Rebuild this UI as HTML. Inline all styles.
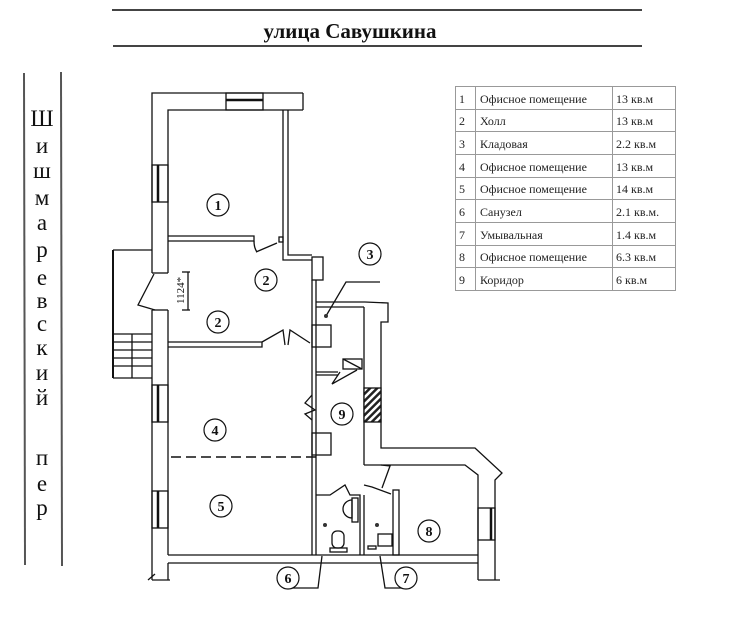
<!DOCTYPE html>
<html><head><meta charset="utf-8"><style>
body{margin:0;background:#fff;width:737px;height:641px;overflow:hidden}
svg{display:block}
</style></head><body>
<svg width="737" height="641" viewBox="0 0 737 641" xmlns="http://www.w3.org/2000/svg" font-family="Liberation Serif, serif">
<rect width="737" height="641" fill="#fff"/>
<!-- title -->
<line x1="112" y1="10" x2="642" y2="10" stroke="#444" stroke-width="2"/>
<line x1="113" y1="46" x2="642" y2="46" stroke="#444" stroke-width="2"/>
<text x="350" y="38" font-size="21" font-weight="bold" text-anchor="middle" fill="#111">улица Савушкина</text>
<!-- left street -->
<line x1="24" y1="73" x2="25" y2="565" stroke="#555" stroke-width="2"/>
<line x1="61" y1="72" x2="62" y2="566" stroke="#555" stroke-width="2"/>
<g font-size="23" text-anchor="middle" fill="#111">
<text x="42" y="126">Ш</text><text x="42" y="153">и</text><text x="42" y="178">ш</text><text x="42" y="205">м</text><text x="42" y="230">а</text><text x="42" y="257">р</text><text x="42" y="285">е</text><text x="42" y="308">в</text><text x="42" y="331">с</text><text x="42" y="355">к</text><text x="42" y="380">и</text><text x="42" y="405">й</text><text x="42" y="465">п</text><text x="42" y="491">е</text><text x="42" y="515">р</text>
</g>
<!-- table -->
<g stroke="#999" stroke-width="1" fill="none">
<rect x="455.5" y="86.5" width="220" height="204"/>
<line x1="475.5" y1="86" x2="475.5" y2="291"/>
<line x1="612.5" y1="86" x2="612.5" y2="291"/>
<line x1="455" y1="109.5" x2="676" y2="109.5"/><line x1="455" y1="131.5" x2="676" y2="131.5"/>
<line x1="455" y1="154.5" x2="676" y2="154.5"/><line x1="455" y1="177.5" x2="676" y2="177.5"/>
<line x1="455" y1="199.5" x2="676" y2="199.5"/><line x1="455" y1="222.5" x2="676" y2="222.5"/>
<line x1="455" y1="245.5" x2="676" y2="245.5"/><line x1="455" y1="267.5" x2="676" y2="267.5"/>
</g>
<g font-size="12" fill="#222">
<text x="459" y="103">1</text><text x="480" y="103">Офисное помещение</text><text x="616" y="103">13 кв.м</text>
<text x="459" y="125">2</text><text x="480" y="125">Холл</text><text x="616" y="125">13 кв.м</text>
<text x="459" y="148">3</text><text x="480" y="148">Кладовая</text><text x="616" y="148">2.2 кв.м</text>
<text x="459" y="171">4</text><text x="480" y="171">Офисное помещение</text><text x="616" y="171">13 кв.м</text>
<text x="459" y="193">5</text><text x="480" y="193">Офисное помещение</text><text x="616" y="193">14 кв.м</text>
<text x="459" y="216">6</text><text x="480" y="216">Санузел</text><text x="616" y="216">2.1 кв.м.</text>
<text x="459" y="239">7</text><text x="480" y="239">Умывальная</text><text x="616" y="239">1.4 кв.м</text>
<text x="459" y="261">8</text><text x="480" y="261">Офисное помещение</text><text x="616" y="261">6.3 кв.м</text>
<text x="459" y="284">9</text><text x="480" y="284">Коридор</text><text x="616" y="284">6 кв.м</text>
</g>
<!-- plan -->
<g stroke="#111" stroke-width="1.3" fill="none">
<polyline points="303,93 152,93 152,273"/>
<polyline points="303,110 168,110 168,273"/>
<line x1="152" y1="273" x2="168" y2="273"/>
<polyline points="152,310 152,580"/>
<polyline points="168,310 168,555"/>
<line x1="152" y1="310" x2="168" y2="310"/>
<line x1="303" y1="93" x2="303" y2="110"/>
<rect x="226" y="93" width="37" height="17"/><line x1="226" y1="100" x2="263" y2="100" stroke-width="2.5"/>
<rect x="152" y="165" width="16" height="37"/><line x1="158" y1="165" x2="158" y2="202" stroke-width="2.5"/>
<rect x="152" y="385" width="16" height="37"/><line x1="158" y1="385" x2="158" y2="422" stroke-width="2.5"/>
<rect x="152" y="491" width="16" height="37"/><line x1="158" y1="491" x2="158" y2="528" stroke-width="2.5"/>
<polyline points="154,274 138,305 155,310"/>
<polyline points="113,250 152,250"/><line x1="113" y1="250" x2="113" y2="378" stroke-width="2"/>
<line x1="113" y1="378" x2="152" y2="378"/>
<line x1="113" y1="334" x2="152" y2="334"/><line x1="113" y1="342" x2="152" y2="342"/><line x1="113" y1="350" x2="152" y2="350"/><line x1="113" y1="358" x2="152" y2="358"/><line x1="113" y1="366" x2="152" y2="366"/>
<line x1="132" y1="334" x2="132" y2="378"/>
<line x1="188" y1="272" x2="188" y2="310"/><line x1="182" y1="272" x2="190" y2="272"/><line x1="182" y1="310" x2="190" y2="310"/>
<polyline points="283,110 283,260 312,260"/>
<polyline points="288,110 288,255 312,255"/>
<polyline points="168,236 254,236 254,241 168,241"/>
<polyline points="256,252 277,243"/><rect x="279" y="237" width="4" height="5"/>
<path d="M254,241 Q254,248 257,252"/>
<polyline points="168,342 262,342 262,347 168,347"/>
<polyline points="262,342 283,330 285,345"/>
<polyline points="310,343 290,330 288,345"/>
<rect x="312" y="257" width="11" height="23"/>
<line x1="312" y1="280" x2="312" y2="555"/><line x1="316" y1="280" x2="316" y2="555"/>
<line x1="316" y1="302" x2="365" y2="302"/><line x1="316" y1="307" x2="364" y2="307"/>
<rect x="312" y="325" width="19" height="22"/>
<polyline points="365,302 388,303 388,322 381,322 381,448 465,448"/>
<line x1="364" y1="307" x2="364" y2="465"/>
<rect x="343" y="359" width="19" height="10"/><line x1="343" y1="359" x2="362" y2="369"/>
<polyline points="316,372 338,372"/><polyline points="316,375 338,375"/>
<polyline points="340,372 332,384 357,370"/>
<polyline points="312,395 305,403 315,410 305,414 312,420"/>
<rect x="312" y="433" width="19" height="22"/>
<rect x="364" y="388" width="17" height="34" fill="url(#h)"/>
<polyline points="364,465 465,465 478,475 478,580"/>
<polyline points="465,448 475,448 502,473 495,480 495,580"/>
<rect x="478" y="508" width="17" height="32"/><line x1="491" y1="508" x2="491" y2="540" stroke-width="2.5"/>
<line x1="168" y1="555" x2="478" y2="555"/>
<line x1="168" y1="563" x2="478" y2="563"/>
<line x1="168" y1="563" x2="168" y2="580"/>
<polyline points="316,495 330,495 345,485 350,495 355,495"/>
<polyline points="355,495 360,495 360,555"/><line x1="364" y1="495" x2="364" y2="555"/>
<polyline points="364,485 372,487 391,494"/>
<polyline points="381,465 390,466 382,488"/>
<rect x="393" y="490" width="6" height="65"/>
<path d="M352,500 a9,9 0 0 0 0,18 z"/><rect x="352" y="498" width="6" height="24"/>
<rect x="332" y="531" width="12" height="17" rx="5"/><rect x="330" y="548" width="17" height="4"/>
<rect x="378" y="534" width="14" height="12"/>
<rect x="368" y="546" width="8" height="3"/>
<polyline points="326,316 346,282 380,282"/>
<polyline points="322,556 318,588 285,588"/>
<polyline points="380,556 385,588 410,588"/>
<line x1="148" y1="580" x2="155" y2="574"/><line x1="152" y1="580" x2="170" y2="580"/>
<line x1="478" y1="580" x2="500" y2="580"/>
</g>
<defs><pattern id="h" width="5" height="5" patternUnits="userSpaceOnUse" patternTransform="rotate(45)"><rect width="5" height="5" fill="#fff"/><rect width="2.5" height="5" fill="#222"/></pattern></defs>
<g fill="#333"><circle cx="326" cy="316" r="2"/><circle cx="325" cy="525" r="2"/><circle cx="377" cy="525" r="2"/></g>
<g stroke="#111" stroke-width="1.2" fill="#fff">
<circle cx="218" cy="205" r="11"/><circle cx="266" cy="280" r="11"/><circle cx="218" cy="322" r="11"/>
<circle cx="370" cy="254" r="11"/><circle cx="215" cy="430" r="11"/><circle cx="221" cy="506" r="11"/>
<circle cx="342" cy="414" r="11"/><circle cx="429" cy="531" r="11"/><circle cx="288" cy="578" r="11"/><circle cx="406" cy="578" r="11"/>
</g>
<g font-size="14" font-weight="bold" text-anchor="middle" fill="#111">
<text x="218" y="210">1</text><text x="266" y="285">2</text><text x="218" y="327">2</text>
<text x="370" y="259">3</text><text x="215" y="435">4</text><text x="221" y="511">5</text>
<text x="342" y="419">9</text><text x="429" y="536">8</text><text x="288" y="583">6</text><text x="406" y="583">7</text>
</g>
<text x="0" y="0" font-size="11" fill="#111" transform="translate(184,304) rotate(-90)">1124*</text>
<line x1="316" y1="457" x2="168" y2="457" stroke="#111" stroke-width="1.5" stroke-dasharray="10,5"/>
</svg>
</body></html>
